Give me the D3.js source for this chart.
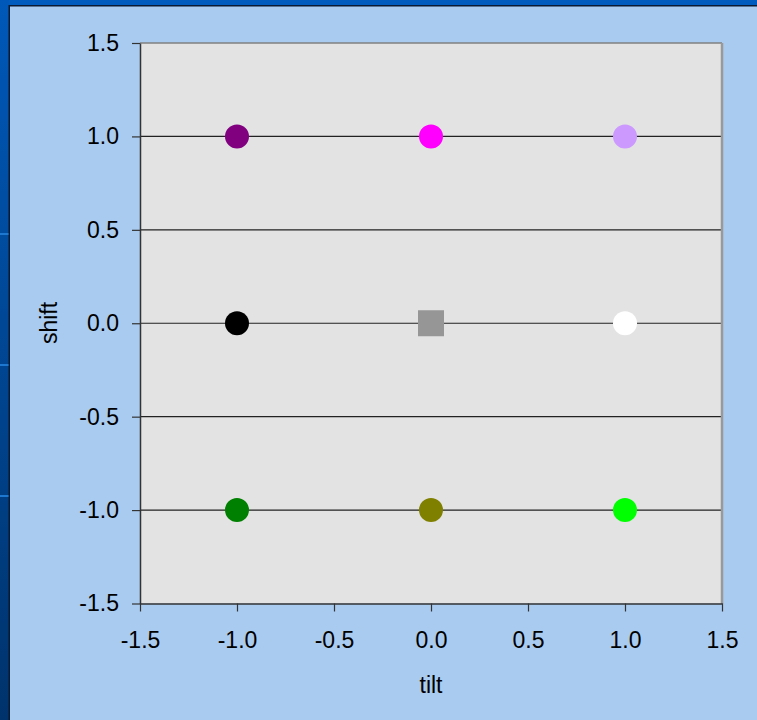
<!DOCTYPE html>
<html><head><meta charset="utf-8">
<script src="https://cdn.jsdelivr.net/npm/d3@7"></script>
<style>html,body{margin:0;padding:0;background:#A6CAF0;overflow:hidden}</style>
</head><body><svg id="c" width="757" height="720"></svg>
<script>
const tiltValues = [-1, 0, 1, -1, 0, 1, -1, 0, 1];
const shiftValues = [1, 1, 1, 0, 0, 0, -1, -1, -1];
const pointColors = ["#800080", "#FF00FF", "#CC99FF", "#000000", "#969696", "#FFFFFF", "#008000", "#808000", "#00FF00"];
const pointShapes = ["circle","circle","circle","circle","square","circle","circle","circle","circle"];
const tickValues = [-1.5, -1.0, -0.5, 0.0, 0.5, 1.0, 1.5];
const gridValues = [-1.0, -0.5, 0.0, 0.5, 1.0];

const svg = d3.select("#c");
const font = "'Liberation Sans', Arial, sans-serif";
const fmt = d => d3.format(".1f")(d).replace("\u2212", "-");

// slide frame
const grad = svg.append("defs").append("linearGradient").attr("id","lg").attr("x1",0).attr("y1",0).attr("x2",0).attr("y2",1);
grad.append("stop").attr("offset","0%").attr("stop-color","#0058B8");
grad.append("stop").attr("offset","100%").attr("stop-color","#00336C");
svg.append("rect").attr("x",0).attr("y",0).attr("width",757).attr("height",720).attr("fill","#A9CBF0");
svg.append("rect").attr("x",0).attr("y",0).attr("width",757).attr("height",5).attr("fill","#005BBE");
svg.append("rect").attr("x",0).attr("y",0).attr("width",9).attr("height",720).attr("fill","url(#lg)");
svg.append("rect").attr("x",9).attr("y",5).attr("width",748).attr("height",1.5).attr("fill","#0A1A33");
svg.append("rect").attr("x",8.5).attr("y",5).attr("width",1.5).attr("height",715).attr("fill","#0A1A33");
[233, 364, 495].forEach(y => svg.append("rect").attr("x",0).attr("y",y).attr("width",8.5).attr("height",2).attr("fill","#1E78D0"));

const x = d3.scaleLinear().domain([-1.5, 1.5]).range([140, 722]);
const y = d3.scaleLinear().domain([-1.5, 1.5]).range([603.5, 43]);

svg.append("rect").attr("x",140).attr("y",43).attr("width",582).attr("height",560.5).attr("fill","#E3E3E3");

// gridlines
svg.append("g").selectAll("line").data(gridValues).join("line")
  .attr("x1",140).attr("x2",722).attr("y1",d=>y(d)).attr("y2",d=>y(d))
  .attr("stroke","#222").attr("stroke-width",1.2);

// border
svg.append("line").attr("x1",140).attr("x2",722).attr("y1",43).attr("y2",43).attr("stroke","#808080").attr("stroke-width",1.5);
svg.append("line").attr("x1",722).attr("x2",722).attr("y1",43).attr("y2",604).attr("stroke","#999").attr("stroke-width",2.5);

// axes
const yAxis = svg.append("g").attr("transform","translate(140,0)")
  .call(d3.axisLeft(y).tickValues(tickValues).tickFormat(fmt).tickSizeOuter(0).tickSizeInner(8).tickPadding(13));
const xAxis = svg.append("g").attr("transform","translate(0,603.5)")
  .call(d3.axisBottom(x).tickValues(tickValues).tickFormat(fmt).tickSizeOuter(0).tickSizeInner(8).tickPadding(20));
[yAxis, xAxis].forEach(a => {
  a.attr("font-size", 23).attr("font-family", font);
  a.select(".domain").attr("stroke","#333").attr("stroke-width",1.5);
  a.selectAll(".tick line").attr("stroke","#333").attr("stroke-width",1.2);
  a.selectAll("text").style("font-size","23px").style("font-family",font).attr("fill","#000");
});

// titles
svg.append("text").attr("x",431).attr("y",693).attr("text-anchor","middle").style("font-family",font).style("font-size","23px").text("tilt");
svg.append("text").attr("transform","translate(57,323) rotate(-90)").attr("text-anchor","middle").style("font-family",font).style("font-size","23px").text("shift");

// points
const pts = tiltValues.map((t,i)=>({t, s:shiftValues[i], c:pointColors[i], shape:pointShapes[i]}));
const g = svg.append("g");
g.selectAll("circle").data(pts.filter(d=>d.shape==="circle")).join("circle")
  .attr("cx",d=>x(d.t)).attr("cy",d=>y(d.s)).attr("r",12).attr("fill",d=>d.c);
g.selectAll("rect").data(pts.filter(d=>d.shape==="square")).join("rect")
  .attr("x",d=>x(d.t)-13).attr("y",d=>y(d.s)-13).attr("width",26).attr("height",26).attr("fill",d=>d.c);
</script></body></html>
